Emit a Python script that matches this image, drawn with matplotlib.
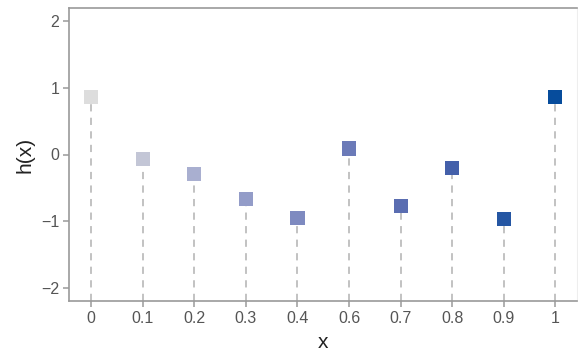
import numpy as np
import matplotlib.pyplot as plt
from matplotlib.colors import LinearSegmentedColormap

# sample points and function values
x_labels = ["0", "0.1", "0.2", "0.3", "0.4", "0.6", "0.7", "0.8", "0.9", "1"]
h_values = [0.866, -0.07, -0.29, -0.67, -0.95, 0.09, -0.775, -0.205, -0.965, 0.866]
y_ticks = [-2, -1, 0, 1, 2]

plt.rcParams['font.family'] = ['Liberation Sans', 'DejaVu Sans']

fig = plt.figure(figsize=(5.78, 3.52), dpi=100)
ax = fig.add_axes([69 / 578, 1 - 301 / 352, 508 / 578, 293 / 352])

pos = np.arange(len(x_labels))
ymin, ymax = -2.2, 2.2

# colour ramps from light grey to deep blue along x
cmap = LinearSegmentedColormap.from_list(
    "greyblue", ["#dddddd", "#a2a9ce", "#7481bc", "#4d63ac", "#064c9c"])
colors = cmap(np.linspace(0, 1, len(pos)))

ax.vlines(pos, ymin, h_values, colors="#bdbdbd", linewidth=1.3,
          linestyles=(0, (4, 3.5)), zorder=1)
ax.scatter(pos, h_values, marker="s", s=105, c=colors, edgecolors="none", zorder=3)

ax.set_xlim(-0.43, 9.42)
ax.set_ylim(ymin, ymax)
ax.set_xticks(pos)
ax.set_xticklabels(x_labels)
ax.set_yticks(y_ticks)
ax.set_yticklabels(["\u22122", "\u22121", "0", "1", "2"])

for side in ["left", "bottom", "top"]:
    ax.spines[side].set_color("#9a9a9a")
    ax.spines[side].set_linewidth(1.2)
ax.spines["right"].set_color("#eeeeee")
ax.tick_params(colors="#9a9a9a", labelcolor="#555555", labelsize=11.5,
               length=4, width=1.1, direction="out", pad=3)

ax.set_xlabel("x", fontsize=15, color="#222222", labelpad=5)
ax.set_ylabel("h(x)", fontsize=15, color="#222222", labelpad=5)

fig.savefig("out.png", dpi=100)
